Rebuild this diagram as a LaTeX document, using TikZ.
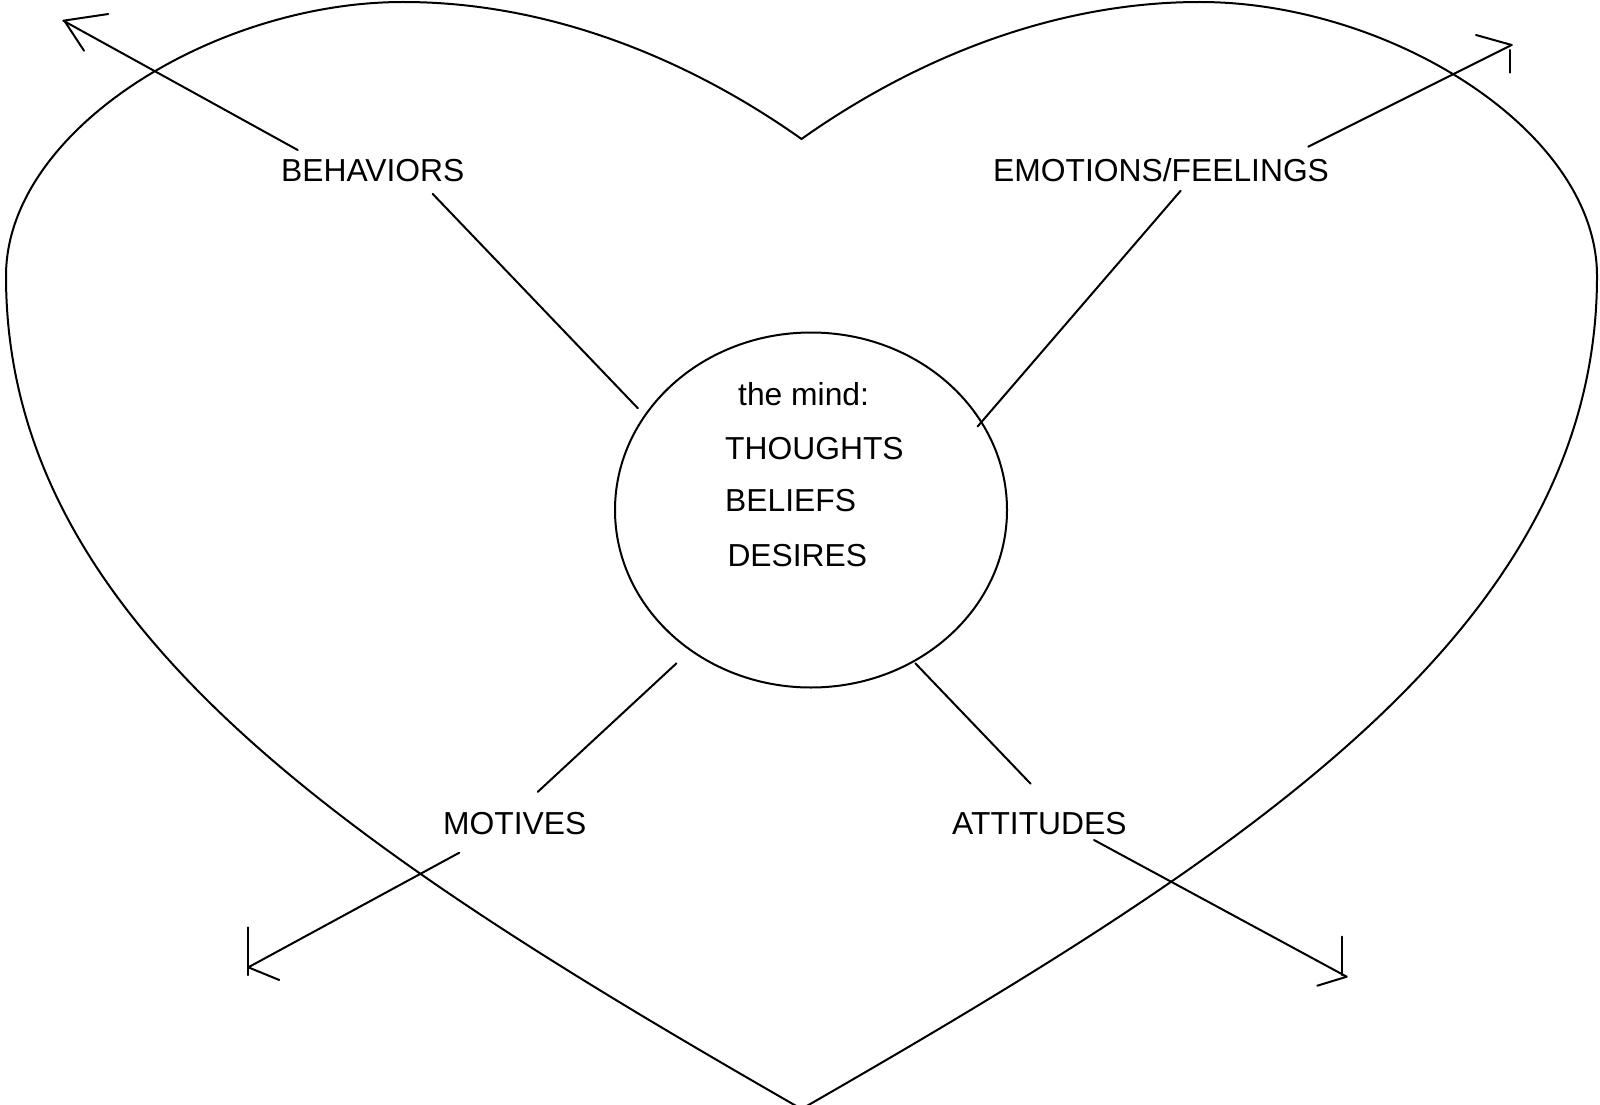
\documentclass[tikz,border=0pt]{standalone}
\usepackage{fontspec}
\setmainfont{Liberation Sans}
\usetikzlibrary{shapes.geometric}
\begin{document}
\begin{tikzpicture}[x=1pt,y=-1pt,
  ln/.style={line width=2pt,line cap=round,line join=round},
  lbl/.style={anchor=base west,inner sep=0pt,font=\fontsize{31.8pt}{38pt}\selectfont}]
\useasboundingbox (0,0) rectangle (1600,1105);
% heart
\draw[ln] (801.5,139) .. controls (700,67) and (560,2) .. (403,2)
  .. controls (215,2) and (6,130) .. (6,276)
  .. controls (6,626) and (352,851) .. (801.5,1109)
  .. controls (1251,851) and (1597,626) .. (1597,276)
  .. controls (1597,130) and (1388,2) .. (1200,2)
  .. controls (1043,2) and (903,67) .. (801.5,139) -- cycle;
% the mind
\node[ln,draw,ellipse,minimum width=392pt,minimum height=355pt,inner sep=0pt] (mind) at (811,510) {};
\node[lbl] (tm) at (738,405) {the mind:};
\node[lbl] (th) at (725,459.3) {THOUGHTS};
\node[lbl] (be) at (725,511.7) {BELIEFS};
\node[lbl] (de) at (727.3,566.7) {DESIRES};
% labels
\node[lbl] (beh) at (281,181) {BEHAVIORS};
\node[lbl] (emo) at (993,181) {EMOTIONS/FEELINGS};
\node[lbl] (mot) at (443,834.5) {MOTIVES};
\node[lbl] (att) at (952,834.5) {ATTITUDES};
% connector end points
\coordinate (behA) at (432.7,193.9); \coordinate (behB) at (637.8,408.2);
\coordinate (emoA) at (1180.6,190.8); \coordinate (emoB) at (977.6,426.5);
\coordinate (motA) at (537.8,791.8); \coordinate (motB) at (676.5,663.3);
\coordinate (attA) at (1030.6,783.7); \coordinate (attB) at (915.3,663.3);
\draw[ln] (behA) -- (behB);
\draw[ln] (emoA) -- (emoB);
\draw[ln] (motA) -- (motB);
\draw[ln] (attA) -- (attB);
% outer arrows
\coordinate (behS) at (297.7,150); \coordinate (behT) at (63.3,20.7);
\coordinate (emoS) at (1308.3,146.7); \coordinate (emoT) at (1511.7,45);
\coordinate (motS) at (459.3,852.7); \coordinate (motT) at (248.3,967.3);
\coordinate (attS) at (1094,840); \coordinate (attT) at (1346.7,976.7);
\draw[ln] (behS) -- (behT) -- (108.3,14);
\draw[ln] (65,21.7) -- (84,50.7);
\draw[ln] (emoS) -- (emoT);
\draw[ln] (1476,35) -- (emoT);
\draw[ln] (1510,50) -- (1510,72.7);
\draw[ln] (motS) -- (motT) -- (279.3,980);
\draw[ln] (248.3,927.3) -- (248.3,975);
\draw[ln] (attS) -- (attT) -- (1317.3,985.7);
\draw[ln] (1342.3,936.7) -- (1342.3,975);
\end{tikzpicture}
\end{document}
